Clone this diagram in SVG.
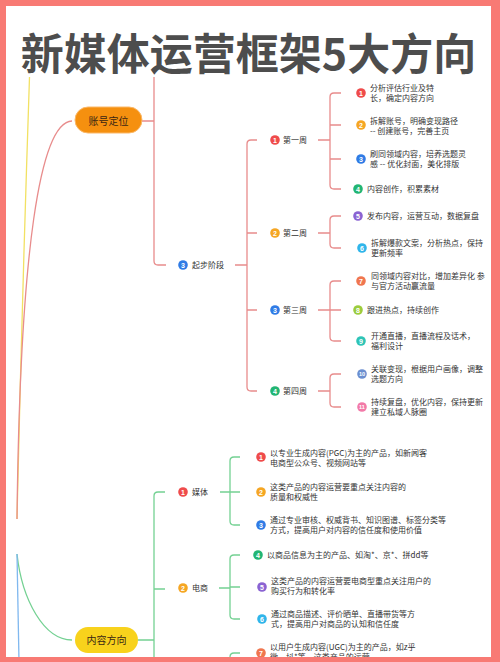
<svg xmlns="http://www.w3.org/2000/svg" width="500" height="662" viewBox="0 0 500 662">
<style>
.t{font-family:"Noto Sans CJK SC","Noto Sans",sans-serif;font-size:8px;fill:#333}
.lbl{font-family:"Noto Sans CJK SC","Noto Sans",sans-serif;font-size:8px;fill:#333}
.pill{font-family:"Noto Sans CJK SC","Noto Sans",sans-serif;font-size:10px;fill:#3a2614;text-anchor:middle}
.bn{font-family:"Liberation Sans","Noto Sans",sans-serif;font-size:7px;font-weight:bold;fill:#fff;text-anchor:middle}
.bn2{font-family:"Liberation Sans","Noto Sans",sans-serif;font-size:5.5px;font-weight:bold;fill:#fff;text-anchor:middle}
.red{stroke:#e88c8c;stroke-width:1.3;fill:none}
.grn{stroke:#74d193;stroke-width:1.3;fill:none}
</style>
<rect x="0" y="0" width="500" height="662" fill="#fff"/>
<g id="connectors">
<path d="M29.5,77 Q22,300 17,519" stroke="#f2e163" stroke-width="1.3" fill="none"/>
<path d="M72,121 C40,122 20,250 17,519" class="red"/>
<path d="M17,554 C22,600 44,640 72,640" class="grn"/>
<path d="M17,554 L19,662" stroke="#80b8ef" stroke-width="1.3" fill="none"/>
<path d="M142,121 H154 M154,77 V261 Q154,265 158,265 H166" class="red"/>
<path d="M235,265 H247 M257,140 H251 Q247,140 247,144 V387 Q247,391 251,391 H257 M247,233 H257 M247,310 H257" class="red"/>
<path d="M318,140 H330 M341,93 H334 Q330,93 330,97 V185 Q330,189 334,189 H341 M330,125 H341 M330,159 H341" class="red"/>
<path d="M318,233 H330 M341,216 H334 Q330,216 330,220 V244 Q330,248 334,248 H341" class="red"/>
<path d="M318,310 H330 M341,281 H334 Q330,281 330,285 V337 Q330,341 334,341 H341 M330,310 H341" class="red"/>
<path d="M318,391 H330 M341,374 H334 Q330,374 330,378 V403 Q330,407 334,407 H341" class="red"/>
<path d="M138,640 H154 M165,492 H158 Q154,492 154,496 V662 M154,589 H165" class="grn"/>
<path d="M220,492 H230 M240,457 H234 Q230,457 230,461 V521 Q230,525 234,525 H240 M230,492 H240" class="grn"/>
<path d="M219,588 H230 M240,555 H234 Q230,555 230,559 V615 Q230,619 234,619 H240 M230,587 H240" class="grn"/>
<path d="M240,653 H234 Q230,653 230,657 V662" class="grn"/>
</g>
<g id="title"><text x="248.5" y="70" font-family="'Noto Sans CJK SC','Noto Sans',sans-serif" font-size="43" font-weight="bold" fill="#4d4d4d" text-anchor="middle">新媒体运营框架5大方向</text></g>
<g id="n-account"><rect x="75" y="107" width="67" height="26" rx="13" fill="#f5900f" stroke="#fbb868" stroke-width="1"/><text class="pill" x="108.5" y="124.5">账号定位</text></g>
<g id="n-start"><circle cx="183" cy="265" r="4.8" fill="#2f7be5"/><text class="bn" x="183" y="267.5">3</text><text class="lbl" x="192" y="268">起步阶段</text></g>
<g id="n-w1"><circle cx="275" cy="140" r="4.8" fill="#ef4b4b"/><text class="bn" x="275" y="142.5">1</text><text class="lbl" x="283" y="143">第一周</text></g>
<g id="n-w2"><circle cx="275" cy="233" r="4.8" fill="#f5a623"/><text class="bn" x="275" y="235.5">2</text><text class="lbl" x="283" y="236">第二周</text></g>
<g id="n-w3"><circle cx="275" cy="310" r="4.8" fill="#2f7be5"/><text class="bn" x="275" y="312.5">3</text><text class="lbl" x="283" y="313">第三周</text></g>
<g id="n-w4"><circle cx="275" cy="391" r="4.8" fill="#22b573"/><text class="bn" x="275" y="393.5">4</text><text class="lbl" x="283" y="394">第四周</text></g>
<g id="n-c1"><circle cx="361" cy="93" r="4.8" fill="#ef4b4b"/><text class="bn" x="361" y="95.5">1</text><text class="t" x="370" y="90.5">分析评估行业及特</text><text class="t" x="370" y="100.5">长，确定内容方向</text></g>
<g id="n-c2"><circle cx="361" cy="125" r="4.8" fill="#f5a623"/><text class="bn" x="361" y="127.5">2</text><text class="t" x="370" y="123.5">拆解账号，明确变现路径</text><text class="t" x="370" y="133.5">-- 创建账号，完善主页</text></g>
<g id="n-c3"><circle cx="361" cy="159" r="4.8" fill="#2f7be5"/><text class="bn" x="361" y="161.5">3</text><text class="t" x="370" y="157">刷同领域内容，培养选题灵</text><text class="t" x="370" y="167">感 -- 优化封面，美化排版</text></g>
<g id="n-c4"><circle cx="358" cy="189" r="4.8" fill="#22b573"/><text class="bn" x="358" y="191.5">4</text><text class="t" x="367" y="192">内容创作，积累素材</text></g>
<g id="n-c5"><circle cx="358" cy="216" r="4.8" fill="#8a63d2"/><text class="bn" x="358" y="218.5">5</text><text class="t" x="367" y="219">发布内容，运营互动，数据复盘</text></g>
<g id="n-c6"><circle cx="362" cy="248" r="4.8" fill="#2fb5ea"/><text class="bn" x="362" y="250.5">6</text><text class="t" x="371" y="246">拆解爆款文案，分析热点，保持</text><text class="t" x="371" y="255.5">更新频率</text></g>
<g id="n-c7"><circle cx="361" cy="281" r="4.8" fill="#f0764f"/><text class="bn" x="361" y="283.5">7</text><text class="t" x="371" y="279">同领域内容对比，增加差异化 参</text><text class="t" x="371" y="289">与官方活动赢流量</text></g>
<g id="n-c8"><circle cx="358" cy="310" r="4.8" fill="#9ccc3c"/><text class="bn" x="358" y="312.5">8</text><text class="t" x="367" y="313">跟进热点，持续创作</text></g>
<g id="n-c9"><circle cx="361" cy="341" r="4.8" fill="#2ec4b6"/><text class="bn" x="361" y="343.5">9</text><text class="t" x="371" y="339">开通直播，直播流程及话术，</text><text class="t" x="371" y="349">福利设计</text></g>
<g id="n-c10"><circle cx="362" cy="374" r="4.8" fill="#6b8fd0"/><text class="bn2" x="362" y="376">10</text><text class="t" x="371" y="372">关联变现，根据用户画像，调整</text><text class="t" x="371" y="382">选题方向</text></g>
<g id="n-c11"><circle cx="362" cy="407" r="4.8" fill="#f27aa8"/><text class="bn2" x="362" y="409">11</text><text class="t" x="371" y="405">持续复盘，优化内容，保持更新</text><text class="t" x="371" y="415">建立私域人脉圈</text></g>
<g id="n-content"><rect x="75" y="627" width="63" height="26" rx="13" fill="#f8d21c"/><text class="pill" x="106.5" y="643.5">内容方向</text></g>
<g id="n-media"><circle cx="183" cy="492" r="4.8" fill="#ef4b4b"/><text class="bn" x="183" y="494.5">1</text><text class="lbl" x="192" y="495">媒体</text></g>
<g id="n-ecom"><circle cx="183" cy="588" r="4.8" fill="#f5a623"/><text class="bn" x="183" y="590.5">2</text><text class="lbl" x="192" y="591">电商</text></g>
<g id="n-m1"><circle cx="261" cy="457" r="4.8" fill="#ef4b4b"/><text class="bn" x="261" y="459.5">1</text><text class="t" x="270" y="456">以专业生成内容(PGC)为主的产品，如新闻客</text><text class="t" x="270" y="466">电商型公众号、视频网站等</text></g>
<g id="n-m2"><circle cx="261" cy="492" r="4.8" fill="#f5a623"/><text class="bn" x="261" y="494.5">2</text><text class="t" x="270" y="490">这类产品的内容运营要重点关注内容的</text><text class="t" x="270" y="500">质量和权威性</text></g>
<g id="n-m3"><circle cx="261" cy="525" r="4.8" fill="#2f7be5"/><text class="bn" x="261" y="527.5">3</text><text class="t" x="270" y="523">通过专业审核、权威背书、知识图谱、标签分类等</text><text class="t" x="270" y="533">方式，提高用户对内容的信任度和使用价值</text></g>
<g id="n-e4"><circle cx="258" cy="555" r="4.8" fill="#22b573"/><text class="bn" x="258" y="557.5">4</text><text class="t" x="267" y="558">以商品信息为主的产品、如淘*、京*、拼dd等</text></g>
<g id="n-e5"><circle cx="262" cy="587" r="4.8" fill="#8a63d2"/><text class="bn" x="262" y="589.5">5</text><text class="t" x="271" y="584">这类产品的内容运营要电商型重点关注用户的</text><text class="t" x="271" y="594">购买行为和转化率</text></g>
<g id="n-e6"><circle cx="262" cy="619" r="4.8" fill="#2fb5ea"/><text class="bn" x="262" y="621.5">6</text><text class="t" x="271" y="617">通过商品描述、评价晒单、直播带货等方</text><text class="t" x="271" y="626.5">式，提高用户对商品的认知和信任度</text></g>
<g id="n-u7"><circle cx="261" cy="653" r="4.8" fill="#f0764f"/><text class="bn" x="261" y="655.5">7</text><text class="t" x="270" y="650">以用户生成内容(UGC)为主的产品，如z乎</text><text class="t" x="270" y="660">微、抖*等，这类产品的运营</text></g>
<g id="frame"><path d="M0,0 H500 V662 H0 Z M6,6 V657 H491 V6 Z" fill="#f87a74" fill-rule="evenodd"/></g>
</svg>
